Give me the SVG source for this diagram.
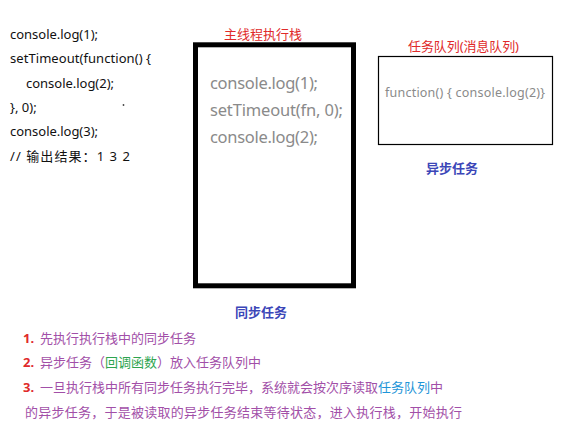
<svg xmlns="http://www.w3.org/2000/svg" width="565" height="442" viewBox="0 0 565 442">
<style>
  text { font-family: "Noto Sans", "Noto Sans CJK SC", sans-serif; }
  .code { font-size: 13px; fill: #111; }
  .stack { font-size: 16.5px; fill: #8a8a8a; }
  .title { font-size: 13px; fill: #e02a2a; }
  .head { font-size: 13px; font-weight: bold; fill: #3b46b8; }
  .num { font-size: 13px; font-weight: bold; fill: #e02a2a; }
  .item { font-size: 13px; fill: #a24fa8; }
  .green { fill: #2ea44f; }
  .blue { fill: #1e95d8; }
</style>
<rect width="565" height="442" fill="#ffffff"/>
<g id="code">
  <text class="code" x="10" y="39" textLength="88">console.log(1);</text>
  <text class="code" x="10" y="63" textLength="141">setTimeout(function() {</text>
  <text class="code" x="26" y="88" textLength="88">console.log(2);</text>
  <text class="code" x="10" y="112">}, 0);</text>
  <text class="code" x="10" y="136" textLength="88">console.log(3);</text>
  <text class="code" x="10" y="161" textLength="120">// 输出结果：1  3  2</text>
  <circle cx="123.5" cy="105" r="0.9" fill="#444"/>
</g>
<g id="stack">
  <text class="title" x="224" y="39" textLength="78">主线程执行栈</text>
  <rect x="195.5" y="44.8" width="158" height="241" fill="#ffffff" stroke="#000" stroke-width="5"/>
  <text class="stack" x="210" y="89" textLength="108">console.log(1);</text>
  <text class="stack" x="210" y="116" textLength="133">setTimeout(fn, 0);</text>
  <text class="stack" x="210" y="143" textLength="108">console.log(2);</text>
</g>
<g id="queue">
  <text class="title" x="408" y="51" textLength="111">任务队列(消息队列)</text>
  <rect x="378.5" y="56.5" width="174" height="88" fill="#ffffff" stroke="#000" stroke-width="1.2"/>
  <text x="385" y="97" font-size="12.5" fill="#8a8a8a" textLength="160">function() { console.log(2)}</text>
</g>
<g id="labels">
  <text class="head" x="452" y="173" text-anchor="middle">异步任务</text>
  <text class="head" x="261" y="317" text-anchor="middle">同步任务</text>
</g>
<g id="notes">
  <text x="23" y="343"><tspan class="num">1.</tspan><tspan class="item" x="40">先执行执行栈中的同步任务</tspan></text>
  <text x="23" y="367"><tspan class="num">2.</tspan><tspan class="item" x="40">异步任务（</tspan><tspan class="item green">回调函数</tspan><tspan class="item">）放入任务队列中</tspan></text>
  <text x="23" y="392"><tspan class="num">3.</tspan><tspan class="item" x="40">一旦执行栈中所有同步任务执行完毕，系统就会按次序读取</tspan><tspan class="item blue">任务队列</tspan><tspan class="item">中</tspan></text>
  <text class="item" x="25" y="417" textLength="437">的异步任务，于是被读取的异步任务结束等待状态，进入执行栈，开始执行</text>
</g>
</svg>
